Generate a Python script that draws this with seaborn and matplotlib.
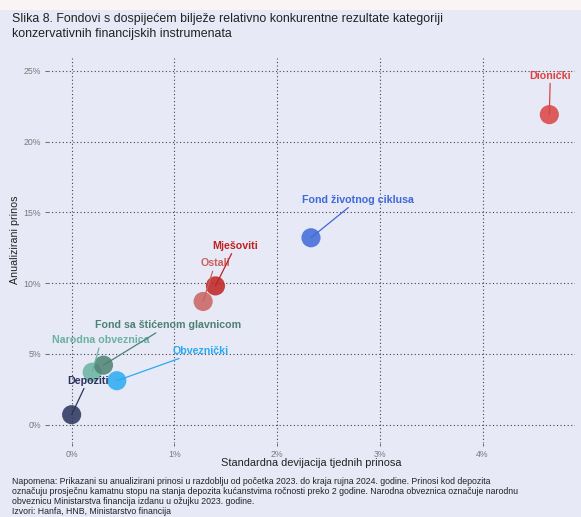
import matplotlib
matplotlib.use("Agg")
import matplotlib.pyplot as plt
import matplotlib.patches as mpatches
import matplotlib.ticker as mticker
import seaborn as sns
import pandas as pd

# Fund categories: weekly return volatility vs annualised return (%)
categories = ["Depoziti", "Narodna obveznica", "Fond sa štićenom glavnicom", "Obveznički",
              "Ostali", "Mješoviti", "Fond životnog ciklusa", "Dionički"]
std_dev = [0.00, 0.20, 0.31, 0.44, 1.28, 1.40, 2.33, 4.65]
ann_return = [0.7, 3.7, 4.2, 3.1, 8.7, 9.8, 13.2, 21.9]
colors = ["#2B335C", "#6AB2A2", "#4C8272", "#2AAAF2",
          "#C9625E", "#BF2020", "#3E69D8", "#DB4343"]
x_ticks = [0, 1, 2, 3, 4]
y_ticks = [0, 5, 10, 15, 20, 25]

# label offsets (pixels) relative to each point
label_offsets = {
    "Depoziti": (16, 34),
    "Narodna obveznica": (9, 32),
    "Fond sa štićenom glavnicom": (65, 40),
    "Obveznički": (84, 30),
    "Ostali": (12, 38),
    "Mješoviti": (20, 40),
    "Fond životnog ciklusa": (47, 38),
    "Dionički": (1, 39),
}

df = pd.DataFrame({"kategorija": categories, "std": std_dev, "prinos": ann_return})
palette = dict(zip(categories, colors))

bg = "#E7E9F6"
plt.rcParams["font.family"] = ["Liberation Sans", "DejaVu Sans"]

fig = plt.figure(figsize=(5.81, 5.17), dpi=100, facecolor=bg)
fig.patches.append(mpatches.Rectangle((0, 1 - 10 / 517), 1, 10 / 517,
                                      transform=fig.transFigure, facecolor="#FBF4F4",
                                      edgecolor="none", zorder=0))

ax = fig.add_axes([48 / 581, 1 - 443 / 517, (575 - 48) / 581, (443 - 58) / 517])
ax.set_facecolor(bg)

sns.scatterplot(data=df, x="std", y="prinos", hue="kategorija", palette=palette,
                s=190, alpha=0.85, edgecolor="none", legend=False, ax=ax, zorder=3)

ax.set_xlim(-0.23, 4.90)
ax.set_ylim(-1.3, 25.9)
ax.set_xticks(x_ticks)
ax.set_yticks(y_ticks)
ax.xaxis.set_major_formatter(mticker.FuncFormatter(lambda v, p: f"{v:.0f}%"))
ax.yaxis.set_major_formatter(mticker.FuncFormatter(lambda v, p: f"{v:.0f}%"))
ax.tick_params(axis="both", labelsize=6.3, labelcolor="#7A7A7A", color="#555555",
               length=2, width=0.6, pad=3)
for s in ax.spines.values():
    s.set_visible(False)
ax.grid(True, linestyle=(0, (1, 2.2)), color="#444444", linewidth=0.8, zorder=1)

ax.set_xlabel("Standardna devijacija tjednih prinosa", fontsize=7.9, color="#222222")
ax.set_ylabel("Anualizirani prinos", fontsize=7.7, color="#222222")
# label placement in figure pixels
ax.xaxis.set_label_coords(311 / 581, 1 - 463 / 517, transform=fig.transFigure)
ax.yaxis.set_label_coords(15 / 581, 1 - 240 / 517, transform=fig.transFigure)
ax.xaxis.label.set_va("center")
ax.yaxis.label.set_va("center")

for cat, xv, yv in zip(categories, std_dev, ann_return):
    dx, dy = label_offsets[cat]
    ax.annotate(cat, xy=(xv, yv), xytext=(dx, dy), textcoords="offset pixels",
                ha="center", va="center", fontsize=7.7, fontweight="bold",
                color=palette[cat], zorder=4,
                arrowprops=dict(arrowstyle="-", color=palette[cat], lw=0.9,
                                shrinkA=0, shrinkB=0))

fig.text(12 / 581, 1 - 13 / 517,
         "Slika 8. Fondovi s dospijećem bilježe relativno konkurentne rezultate kategoriji\n"
         "konzervativnih financijskih instrumenata",
         ha="left", va="top", fontsize=8.9, color="#222222", linespacing=1.3)

fig.text(12 / 581, 1 - 477 / 517,
         "Napomena: Prikazani su anualizirani prinosi u razdoblju od početka 2023. do kraja rujna 2024. godine. Prinosi kod depozita\n"
         "označuju prosječnu kamatnu stopu na stanja depozita kućanstvima ročnosti preko 2 godine. Narodna obveznica označuje narodnu\n"
         "obveznicu Ministarstva financija izdanu u ožujku 2023. godine.\n"
         "Izvori: Hanfa, HNB, Ministarstvo financija",
         ha="left", va="top", fontsize=6.3, color="#222222", linespacing=1.12)

fig.savefig("out.png", dpi=100, facecolor=bg)
